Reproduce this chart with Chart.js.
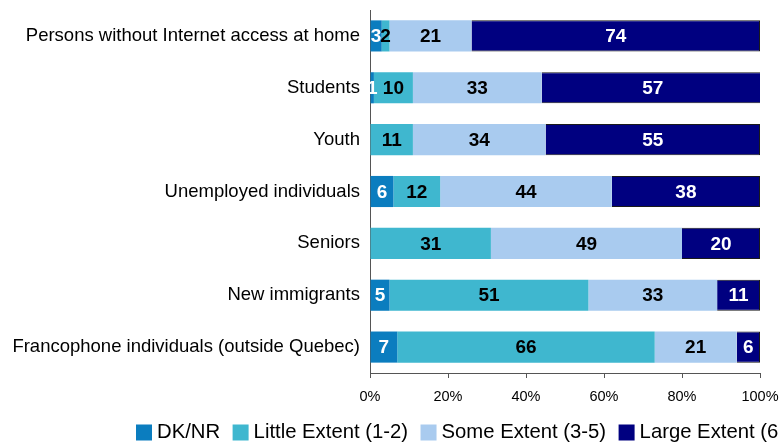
<!DOCTYPE html>
<html>
<head>
<meta charset="utf-8">
<script src="https://cdn.jsdelivr.net/npm/chart.js@4"></script>
<style>
  html, body { margin: 0; padding: 0; background: #fff; }
  #wrap { width: 779px; height: 447px; }
</style>
</head>
<body>
<div id="wrap"><canvas id="bars" width="779" height="447"></canvas></div>
<script>
// groups, top to bottom
var groups = [
    "Persons without Internet access at home",
    "Students",
    "Youth",
    "Unemployed individuals",
    "Seniors",
    "New immigrants",
    "Francophone individuals (outside Quebec)"
];

// % of respondents per answer
var dkNr = [3, 1, 0, 6, 0, 5, 7];
var littleExtent = [2, 10, 11, 12, 31, 51, 66];
var someExtent = [21, 33, 34, 44, 49, 33, 21];
var largeExtent = [74, 57, 55, 38, 20, 11, 6];

var xTicks = [0, 20, 40, 60, 80, 100];

var FONT = "'Liberation Sans', Arial, sans-serif";

// numbers inside each segment
var segmentLabels = {
    id: 'segmentLabels',
    afterDatasetsDraw: function (chart) {
        var ctx = chart.ctx;
        ctx.save();
        ctx.font = "bold 19px " + FONT;
        ctx.textAlign = 'center';
        ctx.textBaseline = 'middle';
        chart.data.datasets.forEach(function (ds, i) {
            var meta = chart.getDatasetMeta(i);
            meta.data.forEach(function (bar, j) {
                var v = ds.data[j];
                if (!v) return;
                ctx.fillStyle = ds.labelColor;
                ctx.fillText(v, (bar.x + bar.base) / 2, bar.y + 1);
            });
        });
        ctx.restore();
    }
};

// legend row along the bottom, runs off the right edge
var bottomLegend = {
    id: 'bottomLegend',
    afterDraw: function (chart) {
        var ctx = chart.ctx;
        ctx.save();
        ctx.font = "20.3px " + FONT;
        ctx.textBaseline = 'middle';
        var x = 136;
        var y = 432.5;
        chart.data.datasets.forEach(function (ds) {
            ctx.fillStyle = ds.backgroundColor;
            ctx.fillRect(x, y - 8, 16, 16);
            x += 21;
            ctx.fillStyle = '#000';
            ctx.fillText(ds.label, x, y);
            x += ctx.measureText(ds.label).width + 12.5;
        });
        ctx.restore();
    }
};

var ctx = document.getElementById("bars").getContext("2d");

var chart = new Chart(ctx, {
    type: 'bar',
    data: {
        labels: groups,
        datasets: [{
            label: 'DK/NR',
            data: dkNr,
            backgroundColor: '#0b7dbf',
            labelColor: '#fff'
        }, {
            label: 'Little Extent (1-2)',
            data: littleExtent,
            backgroundColor: '#3fb7cf',
            labelColor: '#000'
        }, {
            label: 'Some Extent (3-5)',
            data: someExtent,
            backgroundColor: '#a9cbef',
            labelColor: '#000'
        }, {
            label: 'Large Extent (6-7)',
            data: largeExtent,
            backgroundColor: '#000080',
            borderColor: '#1a1a1a',
            borderWidth: 1,
            labelColor: '#fff'
        }]
    },
    options: {
        indexAxis: 'y',
        responsive: false,
        animation: false,
        layout: { padding: { top: 10, right: 19, bottom: 44, left: 0 } },
        datasets: {
            bar: { barPercentage: 0.6, categoryPercentage: 1.0 }
        },
        plugins: {
            legend: { display: false },
            tooltip: { enabled: false }
        },
        scales: {
            x: {
                stacked: true,
                min: 0,
                max: 100,
                afterBuildTicks: function (scale) {
                    scale.ticks = xTicks.map(function (v) { return { value: v }; });
                },
                afterFit: function (scale) {
                    scale.height = 30;
                    scale.paddingLeft = 0;
                    scale.paddingRight = 0;
                },
                grid: { drawOnChartArea: false, drawTicks: true, tickLength: 5, color: '#555' },
                border: { display: true, color: '#555', width: 1 },
                ticks: {
                    padding: 10,
                    color: '#000',
                    font: { family: FONT, size: 14.5 },
                    callback: function (v) { return v + '%'; }
                }
            },
            y: {
                stacked: true,
                afterFit: function (scale) {
                    scale.width = 370;
                    scale.paddingTop = 0;
                    scale.paddingBottom = 0;
                },
                grid: { drawOnChartArea: false, drawTicks: false },
                border: { display: true, color: '#555', width: 1 },
                ticks: {
                    padding: 10,
                    color: '#000',
                    font: { family: FONT, size: 18.5 }
                }
            }
        }
    },
    plugins: [segmentLabels, bottomLegend]
});
</script>
</body>
</html>
